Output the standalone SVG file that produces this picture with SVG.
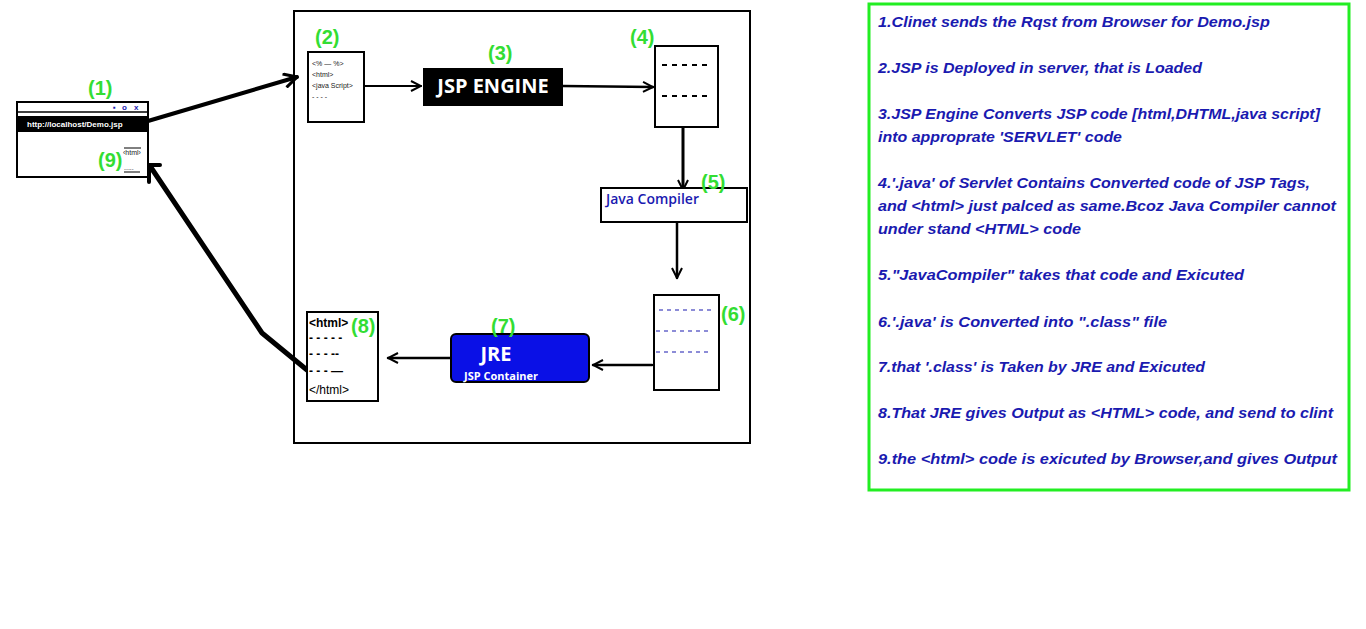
<svg xmlns="http://www.w3.org/2000/svg" width="1366" height="629" viewBox="0 0 1366 629">
<style>
.box{fill:#fff;stroke:#000;stroke-width:2}
.lbl{font-family:"Liberation Sans",Arial,sans-serif;font-weight:bold;font-size:20px;fill:#33dd33}
.step{font-family:"Liberation Sans",Arial,sans-serif;font-weight:bold;font-style:italic;font-size:15px;fill:#1a1ab0}
.conn{fill:none;stroke:#000;stroke-linecap:round;stroke-linejoin:round}
.sm{font-family:"Liberation Sans",Arial,sans-serif;font-size:7px;fill:#222}
.code{font-family:"Liberation Sans",Arial,sans-serif;font-size:12px;fill:#000}
.dash{stroke:#000;stroke-width:2;stroke-dasharray:5 5}
.bdash{stroke:#1a1ab0;stroke-width:1.2;stroke-dasharray:4 4}
</style>
<defs>
<marker id="ah" viewBox="0 0 12 12" refX="11" refY="6" markerWidth="12" markerHeight="12" markerUnits="userSpaceOnUse" orient="auto">
<path d="M1,1 L11,6 L1,11" fill="none" stroke="#000" stroke-width="2"/>
</marker>
<marker id="ahb" viewBox="0 0 16 16" refX="15" refY="8" markerWidth="16" markerHeight="16" markerUnits="userSpaceOnUse" orient="auto">
<path d="M2,1 L15,8 L2,15" fill="none" stroke="#000" stroke-width="3"/>
</marker>
</defs>
<rect width="1366" height="629" fill="#fff"/>

<!-- server frame -->
<rect x="294" y="11" width="456" height="432" fill="none" stroke="#000" stroke-width="2"/>

<g id="connectors">
<path class="conn" d="M148,121 L297,77" stroke-width="4" marker-end="url(#ahb)"/>
<path class="conn" d="M364,86 L421,86" stroke-width="2" marker-end="url(#ah)"/>
<path class="conn" d="M563,86 L653,87" stroke-width="2.5" marker-end="url(#ah)"/>
<path class="conn" d="M683,127 L683,190" stroke-width="3" marker-end="url(#ah)"/>
<path class="conn" d="M677,222 L677,278" stroke-width="2.5" marker-end="url(#ah)"/>
<path class="conn" d="M652,365 L593,365" stroke-width="2.5" marker-end="url(#ah)"/>
<path class="conn" d="M451,358 L388,358" stroke-width="2.5" marker-end="url(#ah)"/>
<path class="conn" d="M307,370 L262,333 L150,166" stroke-width="5"/>
<path class="conn" d="M149,182 L149,165 L160,165" stroke-width="4"/>
</g>

<g id="n1">
<rect x="17" y="102" width="131" height="75" class="box" stroke-width="1.5"/>
<line x1="17" y1="112" x2="148" y2="112" stroke="#000" stroke-width="1.5"/>
<text x="113" y="110" font-family="Liberation Sans,Arial,sans-serif" font-size="8" font-weight="bold" fill="#1a1ab0">▪</text>
<text x="122" y="110" font-family="Liberation Sans,Arial,sans-serif" font-size="8" font-weight="bold" fill="#1a1ab0">o</text>
<text x="134" y="110" font-family="Liberation Sans,Arial,sans-serif" font-size="8" font-weight="bold" fill="#1a1ab0">x</text>
<rect x="18" y="116" width="129" height="16" fill="#000"/>
<text x="27" y="127" font-family="Liberation Sans,Arial,sans-serif" font-size="8" font-weight="bold" fill="#fff">http://localhost/Demo.jsp</text>
<line x1="124" y1="148" x2="141" y2="148" stroke="#000" stroke-width="1"/>
<text x="123" y="155" class="sm">‹html›</text>
<text x="124" y="170" class="sm">.....</text>
<line x1="124" y1="172" x2="140" y2="172" stroke="#000" stroke-width="1"/>
<text x="88" y="95" class="lbl">(1)</text>
<text x="98" y="167" class="lbl">(9)</text>
</g>

<g id="n2">
<rect x="308" y="52" width="56" height="70" class="box"/>
<text x="312" y="66" class="sm">&lt;% — %&gt;</text>
<text x="312" y="77" class="sm">&lt;html&gt;</text>
<text x="312" y="88" class="sm">&lt;java Script&gt;</text>
<text x="312" y="99" class="sm">- - - -</text>
<text x="315" y="44" class="lbl">(2)</text>
</g>

<g id="n3">
<rect x="423" y="68" width="140" height="38" fill="#000"/>
<text x="493" y="93" text-anchor="middle" font-family="'Open Sans','Liberation Sans',sans-serif" font-weight="bold" font-size="20" fill="#fff">JSP ENGINE</text>
<text x="488" y="60" class="lbl">(3)</text>
</g>

<g id="n4">
<rect x="655" y="46" width="63" height="81" class="box"/>
<line x1="662" y1="65" x2="712" y2="65" class="dash"/>
<line x1="662" y1="96" x2="712" y2="96" class="dash"/>
<text x="630" y="44" class="lbl">(4)</text>
</g>

<g id="n5">
<rect x="601" y="188" width="146" height="34" class="box"/>
<text x="606" y="204" font-family="'Open Sans','Liberation Sans',sans-serif" font-weight="600" font-size="14" fill="#1a1ab0">Java Compiler</text>
<text x="701" y="189" class="lbl">(5)</text>
</g>

<g id="n6">
<rect x="654" y="295" width="65" height="95" class="box"/>
<line x1="659" y1="310" x2="714" y2="310" class="bdash"/>
<line x1="656" y1="331" x2="711" y2="331" class="bdash"/>
<line x1="656" y1="352" x2="711" y2="352" class="bdash"/>
<text x="721" y="321" class="lbl">(6)</text>
</g>

<g id="n7">
<rect x="451" y="334" width="138" height="48" rx="5" fill="#0a10e6" stroke="#000" stroke-width="2"/>
<text x="496" y="361" text-anchor="middle" font-family="'Open Sans','Liberation Sans',sans-serif" font-weight="bold" font-size="20" fill="#fff">JRE</text>
<text x="464" y="380" font-family="'Open Sans','Liberation Sans',sans-serif" font-weight="bold" font-size="11" fill="#fff">JSP Container</text>
<text x="491" y="333" class="lbl">(7)</text>
</g>

<g id="n8">
<rect x="307" y="312" width="71" height="89" class="box"/>
<text x="309" y="327" class="code" font-weight="bold">&lt;html&gt;</text>
<text x="309" y="342" class="code" font-weight="bold">- - - - -</text>
<text x="309" y="358" class="code" font-weight="bold">- - - --</text>
<text x="309" y="375" class="code" font-weight="bold">- - -  —</text>
<text x="309" y="394" class="code">&lt;/html&gt;</text>
<text x="351" y="333" class="lbl">(8)</text>
</g>

<g id="steps">
<rect x="869" y="4" width="480" height="486" fill="none" stroke="#22ee22" stroke-width="3"/>
<text x="878" y="27" class="step" textLength="392" lengthAdjust="spacingAndGlyphs">1.Clinet sends the Rqst from Browser for Demo.jsp</text>
<text x="878" y="73" class="step" textLength="324" lengthAdjust="spacingAndGlyphs">2.JSP is Deployed in server, that is Loaded</text>
<text x="878" y="119" class="step" textLength="442" lengthAdjust="spacingAndGlyphs">3.JSP Engine Converts JSP code [html,DHTML,java script]</text>
<text x="878" y="142" class="step" textLength="244" lengthAdjust="spacingAndGlyphs">into approprate 'SERVLET' code</text>
<text x="878" y="188" class="step" textLength="432" lengthAdjust="spacingAndGlyphs">4.'.java' of Servlet Contains Converted code of JSP Tags,</text>
<text x="878" y="211" class="step" textLength="458" lengthAdjust="spacingAndGlyphs">and &lt;html&gt; just palced as same.Bcoz Java Compiler cannot</text>
<text x="878" y="234" class="step" textLength="203" lengthAdjust="spacingAndGlyphs">under stand &lt;HTML&gt; code</text>
<text x="878" y="280" class="step" textLength="366" lengthAdjust="spacingAndGlyphs">5."JavaCompiler" takes that code and Exicuted</text>
<text x="878" y="327" class="step" textLength="289" lengthAdjust="spacingAndGlyphs">6.'.java' is Converted into ".class" file</text>
<text x="878" y="372" class="step" textLength="327" lengthAdjust="spacingAndGlyphs">7.that '.class' is Taken by JRE and Exicuted</text>
<text x="878" y="418" class="step" textLength="455" lengthAdjust="spacingAndGlyphs">8.That JRE gives Output as &lt;HTML&gt; code, and send to clint</text>
<text x="878" y="464" class="step" textLength="459" lengthAdjust="spacingAndGlyphs">9.the &lt;html&gt; code is exicuted by Browser,and gives Output</text>
</g>
</svg>
